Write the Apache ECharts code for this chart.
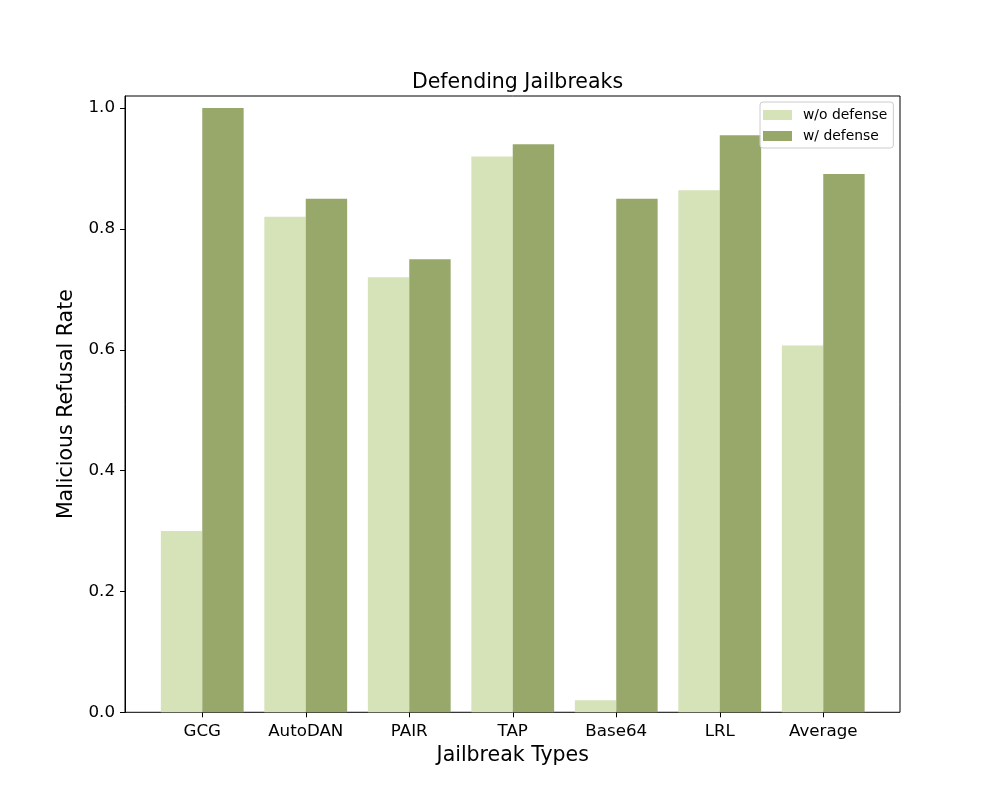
<!DOCTYPE html>
<html>
<head>
<meta charset="utf-8">
<script src="https://cdn.jsdelivr.net/npm/echarts@6/dist/echarts.min.js"></script>
<style>html,body{margin:0;padding:0;background:#fff;}#c{width:1000px;height:800px;}</style>
</head>
<body>
<div id="c"></div>
<script>
const categories = ['GCG', 'AutoDAN', 'PAIR', 'TAP', 'Base64', 'LRL', 'Average'];
const withoutDefense = [0.30, 0.82, 0.72, 0.92, 0.02, 0.864, 0.607];
const withDefense = [1.00, 0.85, 0.75, 0.94, 0.85, 0.955, 0.891];
const yTicks = [0, 0.2, 0.4, 0.6, 0.8, 1.0];

const FONT = 'DejaVu Sans';
const chart = echarts.init(document.getElementById('c'), null, {renderer: 'canvas'});
chart.setOption({
  animation: false,
  backgroundColor: '#fff',
  textStyle: {fontFamily: FONT},
  title: {
    text: 'Defending Jailbreaks',
    left: 512.5, top: 67, textAlign: 'center',
    textStyle: {fontFamily: FONT, fontSize: 20.5, fontWeight: 'normal', color: '#000'}
  },
  legend: {
    orient: 'vertical', left: 760, top: 102,
    padding: [5, 6, 4, 3], itemGap: 5,
    itemWidth: 29, itemHeight: 10, icon: 'rect',
    borderColor: '#cccccc', borderWidth: 1, borderRadius: 3,
    backgroundColor: 'rgba(255,255,255,0.8)',
    textStyle: {fontFamily: FONT, fontSize: 13.9, color: '#000', lineHeight: 16, padding: [0, 0, 0, 6]},
    data: ['w/o defense', 'w/ defense']
  },
  grid: [
    {left: 125, right: 100, top: 96, bottom: 87.7, show: true, borderColor: '#000', borderWidth: 1, backgroundColor: 'transparent', containLabel: false},
    {left: 150.5, right: 125, top: 96, bottom: 87.7, containLabel: false}
  ],
  xAxis: [
    {type: 'value', gridIndex: 0, min: 0, max: 1, show: false},
    {type: 'category', gridIndex: 1, data: categories,
     axisLine: {show: false},
     axisTick: {show: true, alignWithLabel: true, length: 5, lineStyle: {color: '#000', width: 1}},
     axisLabel: {color: '#000', fontFamily: FONT, fontSize: 16.7, margin: 11},
     name: 'Jailbreak Types', nameLocation: 'middle', nameGap: 32,
     nameTextStyle: {fontFamily: FONT, fontSize: 20.5, color: '#000'}
    }
  ],
  yAxis: [
    {type: 'value', gridIndex: 0, min: 0, max: 1.02,
     axisLine: {show: true, lineStyle: {color: '#000', width: 1}},
     axisTick: {show: true, length: 5, customValues: yTicks, lineStyle: {color: '#000', width: 1}},
     axisLabel: {color: '#000', fontFamily: FONT, fontSize: 16.7, margin: 10, customValues: yTicks,
       formatter: v => v.toFixed(1)},
     splitLine: {show: false},
     name: 'Malicious Refusal Rate', nameLocation: 'middle', nameGap: 36,
     nameTextStyle: {fontFamily: FONT, fontSize: 20.5, color: '#000'}
    },
    {type: 'value', gridIndex: 1, min: 0, max: 1.02, show: false, splitLine: {show: false}}
  ],
  series: [
    {name: 'w/o defense', type: 'bar', xAxisIndex: 1, yAxisIndex: 1, data: withoutDefense,
     barWidth: 41.4, barGap: '0%', itemStyle: {color: '#d6e2b7'}},
    {name: 'w/ defense', type: 'bar', xAxisIndex: 1, yAxisIndex: 1, data: withDefense,
     barWidth: 41.4, barGap: '0%', itemStyle: {color: '#98a86b'}}
  ]
});
</script>
</body>
</html>
